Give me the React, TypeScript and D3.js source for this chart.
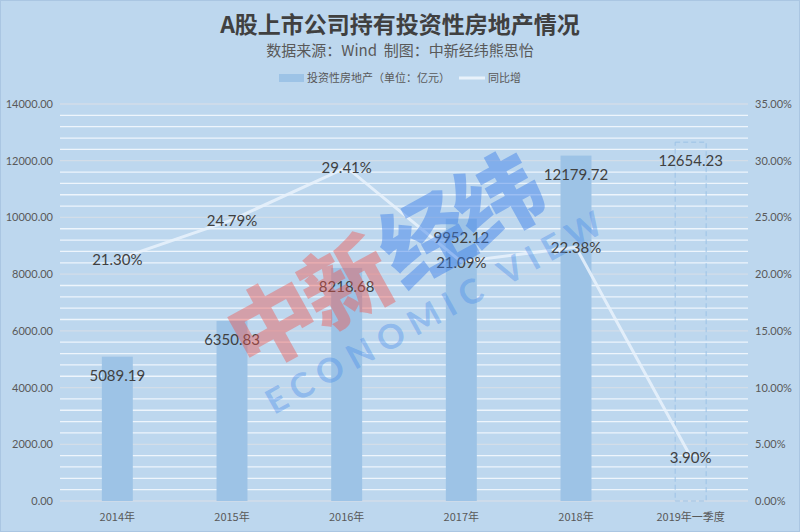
import React from 'react';
import * as d3 from 'd3';

const categories = ['2014年', '2015年', '2016年', '2017年', '2018年', '2019年一季度'];
const propertyValues = [5089.19, 6350.83, 8218.68, 9952.12, 12179.72, 12654.23];
const growthRates = [21.3, 24.79, 29.41, 21.09, 22.38, 3.9];
const leftTicks = [0, 2000, 4000, 6000, 8000, 10000, 12000, 14000];
const rightTicks = [0, 5, 10, 15, 20, 25, 30, 35];
const minorStep = 400;

const W = 800;
const H = 532;
const left = 60;
const right = 748;
const top = 104;
const bottom = 501;

const numFont = 'Lato, "Noto Sans", sans-serif';
const cjkFont = '"Noto Sans CJK SC", sans-serif';

export default function App() {
  const x = d3.scaleBand<string>().domain(categories).range([left, right]).paddingInner(0.73).paddingOuter(0.365);
  const yL = d3.scaleLinear().domain([0, 14000]).range([bottom, top]);
  const yR = d3.scaleLinear().domain([0, 35]).range([bottom, top]);
  const cx = (c: string) => (x(c) as number) + x.bandwidth() / 2;
  const minorTicks = d3.range(0, 14000 + 1, minorStep).filter((v) => v % 2000 !== 0);
  const line = d3
    .line<number>()
    .x((_, i) => cx(categories[i]))
    .y((d) => yR(d));
  const lastIdx = categories.length - 1;

  return (
    <svg
      width={W}
      height={H}
      style={{ position: 'fixed', left: 0, top: 0 }}
      xmlns="http://www.w3.org/2000/svg"
    >
      <rect x={0} y={0} width={W} height={H} fill="#bdd7ee" />
      <rect x={0.5} y={0.5} width={W - 1} height={H - 1} fill="none" stroke="#aac6e2" />
      {/* title */}
      <text x={400} y={33} textAnchor="middle" fontFamily={cjkFont} fontWeight={700} fontSize={23} fill="#404040">
        A股上市公司持有投资性房地产情况
      </text>
      <text x={400} y={56} textAnchor="middle" fontFamily={cjkFont} fontSize={15} fill="#595959" style={{ whiteSpace: 'pre' }}>
        {'数据来源：Wind  制图：中新经纬熊思怡'}
      </text>
      {/* legend */}
      <rect x={279} y={74} width={25} height={8} fill="#9dc3e6" />
      <text x={307} y={82} fontFamily={cjkFont} fontSize={11} fill="#595959">
        投资性房地产（单位：亿元）
      </text>
      <line x1={459} x2={485} y1={78} y2={78} stroke="#e9f2fb" strokeWidth={3} />
      <text x={488} y={82} fontFamily={cjkFont} fontSize={11} fill="#595959">
        同比增
      </text>
      {/* minor gridlines */}
      {minorTicks.map((v) => (
        <line key={'m' + v} x1={left} x2={right} y1={yL(v)} y2={yL(v)} stroke="#eef5fc" strokeWidth={1.3} />
      ))}
      {/* major gridlines */}
      {leftTicks.map((v) => (
        <line key={'g' + v} x1={left} x2={right} y1={yL(v)} y2={yL(v)} stroke="#d3dde8" strokeWidth={1.3} />
      ))}
      {/* left axis */}
      {leftTicks.map((v) => (
        <text key={'l' + v} x={53} y={yL(v) + 4} textAnchor="end" fontFamily={numFont} fontSize={11} fill="#595959">
          {v.toFixed(2)}
        </text>
      ))}
      {/* right axis */}
      {rightTicks.map((v) => (
        <text key={'r' + v} x={755} y={yR(v) + 4} textAnchor="start" fontFamily={numFont} fontSize={11} fill="#595959">
          {v.toFixed(2) + '%'}
        </text>
      ))}
      {/* x labels */}
      {categories.map((c) => (
        <text key={'x' + c} x={cx(c)} y={521} textAnchor="middle" fontFamily={cjkFont} fontSize={11} fill="#595959">
          {c}
        </text>
      ))}
      {/* bars */}
      {propertyValues.map((v, i) =>
        i === lastIdx ? (
          <rect
            key={'b' + i}
            x={x(categories[i])}
            y={yL(v)}
            width={x.bandwidth()}
            height={bottom - yL(v)}
            fill="none"
            stroke="#9dc3e6"
            strokeWidth={1}
            strokeDasharray="5,3"
          />
        ) : (
          <rect key={'b' + i} x={x(categories[i])} y={yL(v)} width={x.bandwidth()} height={bottom - yL(v)} fill="#9dc3e6" />
        )
      )}
      {/* line */}
      <path d={line(growthRates) || ''} fill="none" stroke="#e9f2fb" strokeOpacity={0.85} strokeWidth={3} />
      {/* bar labels */}
      {propertyValues.map((v, i) => (
        <text
          key={'bl' + i}
          x={cx(categories[i])}
          y={yL(v) + 24}
          textAnchor="middle"
          fontFamily={numFont}
          fontSize={15}
          fill="#404040"
        >
          {v.toFixed(2)}
        </text>
      ))}
      {/* line labels */}
      {growthRates.map((v, i) => (
        <text
          key={'ll' + i}
          x={cx(categories[i])}
          y={yR(v) + 6}
          textAnchor="middle"
          fontFamily={numFont}
          fontSize={15}
          fill="#404040"
        >
          {v.toFixed(2) + '%'}
        </text>
      ))}
      {/* watermark */}
      <g transform="translate(385,262) rotate(-29)" style={{ pointerEvents: 'none' }}>
        <text x={-88} y={32} textAnchor="middle" fontFamily={cjkFont} fontWeight={900} fontSize={88} fill="rgb(240,80,75)" fillOpacity={0.42} letterSpacing={-4}>
          中新
        </text>
        <text x={86} y={32} textAnchor="middle" fontFamily={cjkFont} fontWeight={900} fontSize={88} fill="rgb(55,125,232)" fillOpacity={0.45} letterSpacing={-4}>
          经纬
        </text>
        <text x={22} y={80} textAnchor="middle" fontFamily={numFont} fontWeight={700} fontSize={34} fill="rgb(70,140,235)" fillOpacity={0.4} letterSpacing={8}>
          ECONOMIC VIEW
        </text>
      </g>
    </svg>
  );
}
